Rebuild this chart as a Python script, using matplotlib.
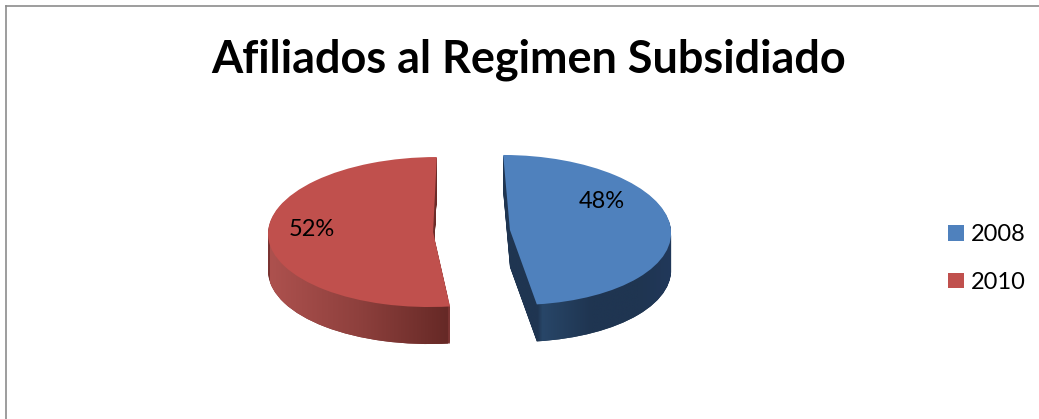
import numpy as np
import matplotlib
matplotlib.use("Agg")
import matplotlib.pyplot as plt
from matplotlib.colors import LinearSegmentedColormap
from matplotlib.path import Path
from matplotlib.transforms import Affine2D

title = "Afiliados al Regimen Subsidiado"
years = ["2008", "2010"]
shares = [48, 52]
top_colors = ["#4f81bd", "#c0504d"]
side_dark = ["#1f3551", "#7a3331"]

W, H = 1039, 419
SQUASH = 165 / 75          # horizontal radius / vertical radius in pixels
DEPTH = 37

def py(p):
    return (H - p) * SQUASH

plt.rcParams["font.family"] = ["Lato", "DejaVu Sans"]
fig = plt.figure(figsize=(W / 100, H / 100), dpi=100)
ax = fig.add_axes([6 / W, 0, 1 - 6 / W, 1 - 6.5 / H])
cx, cy = 470, py(231)

common = dict(explode=(36, 36), radius=165, startangle=90,
              counterclock=False, frame=True, normalize=True)

# perspective imitation per slice: x scale, shear (px per px upward), x shift
warp = [(0.976, -0.09, 4), (1.0, 0.05, -1)]

def warp_tf(p, spec):
    a, k, tx = spec
    wx, wy = p.center
    return (Affine2D().translate(-wx, -wy)
            + Affine2D(np.array([[a, k / SQUASH, 0], [0, 1, 0], [0, 0, 1]]))
            + Affine2D().translate(wx + tx, wy))

# extruded body: stacked pies going downward
bodies = [[], []]
for k in range(DEPTH, 0, -1):
    w, _ = ax.pie(shares, center=(cx, cy - k * SQUASH), colors=side_dark,
                  wedgeprops=dict(linewidth=0, zorder=1), **common)
    for i, p in enumerate(w):
        tf = warp_tf(p, warp[i])
        bodies[i].append(p.get_path().transformed(p.get_patch_transform() + tf))
        p.set_transform(tf + ax.transData)

# top face
top, _ = ax.pie(shares, center=(cx, cy), colors=top_colors,
                wedgeprops=dict(linewidth=0, zorder=5), **common)
for i, p in enumerate(top):
    p.set_transform(warp_tf(p, warp[i]) + ax.transData)

# horizontal shading on the body
shades = [
    (510, 672, ["#1f3551", "#1f3551", "#284668", "#1f3551", "#1f3551", "#21385a"], [0, 0.17, 0.2, 0.5, 0.8, 1]),
    (270, 448, ["#ad514e", "#8e403d", "#662926"], [0, 0.5, 1]),
]
for body, (x0, x1, cols, stops) in zip(bodies, shades):
    cmap = LinearSegmentedColormap.from_list("s", list(zip(stops, cols)))
    im = ax.imshow(np.linspace(0, 1, 256)[None, :], cmap=cmap, aspect="auto",
                   extent=(x0, x1, py(350), py(150)), zorder=2, interpolation="bilinear")
    im.set_clip_path(Path.make_compound_path(*body), ax.transData)

ax.set_aspect("auto")
ax.set_xlim(6, W)
ax.set_ylim(py(H), py(6.5))
ax.set_xticks([])
ax.set_yticks([])
for s in ("right", "bottom"):
    ax.spines[s].set_visible(False)
for s in ("left", "top"):
    ax.spines[s].set_color("#8c8c8c")
    ax.spines[s].set_linewidth(1.2)

ax.text(528.5, py(60), title, ha="center", va="center", fontsize=32.4,
        fontweight="bold", color="black", zorder=10)
for share, (lx, ly) in zip(shares, [(602, 201), (312, 229)]):
    ax.text(lx, py(ly), f"{share}%", ha="center", va="center", fontsize=17,
            color="black", zorder=10)

ax.legend(top, years, loc="upper left", bbox_to_anchor=(948 / W, 1 - 224 / H),
          bbox_transform=fig.transFigure, frameon=False, fontsize=17,
          handlelength=0.66, handleheight=0.66, handletextpad=0.29, labelspacing=1.135,
          borderpad=0, borderaxespad=0)

fig.savefig("out.png", dpi=100, facecolor="white")
